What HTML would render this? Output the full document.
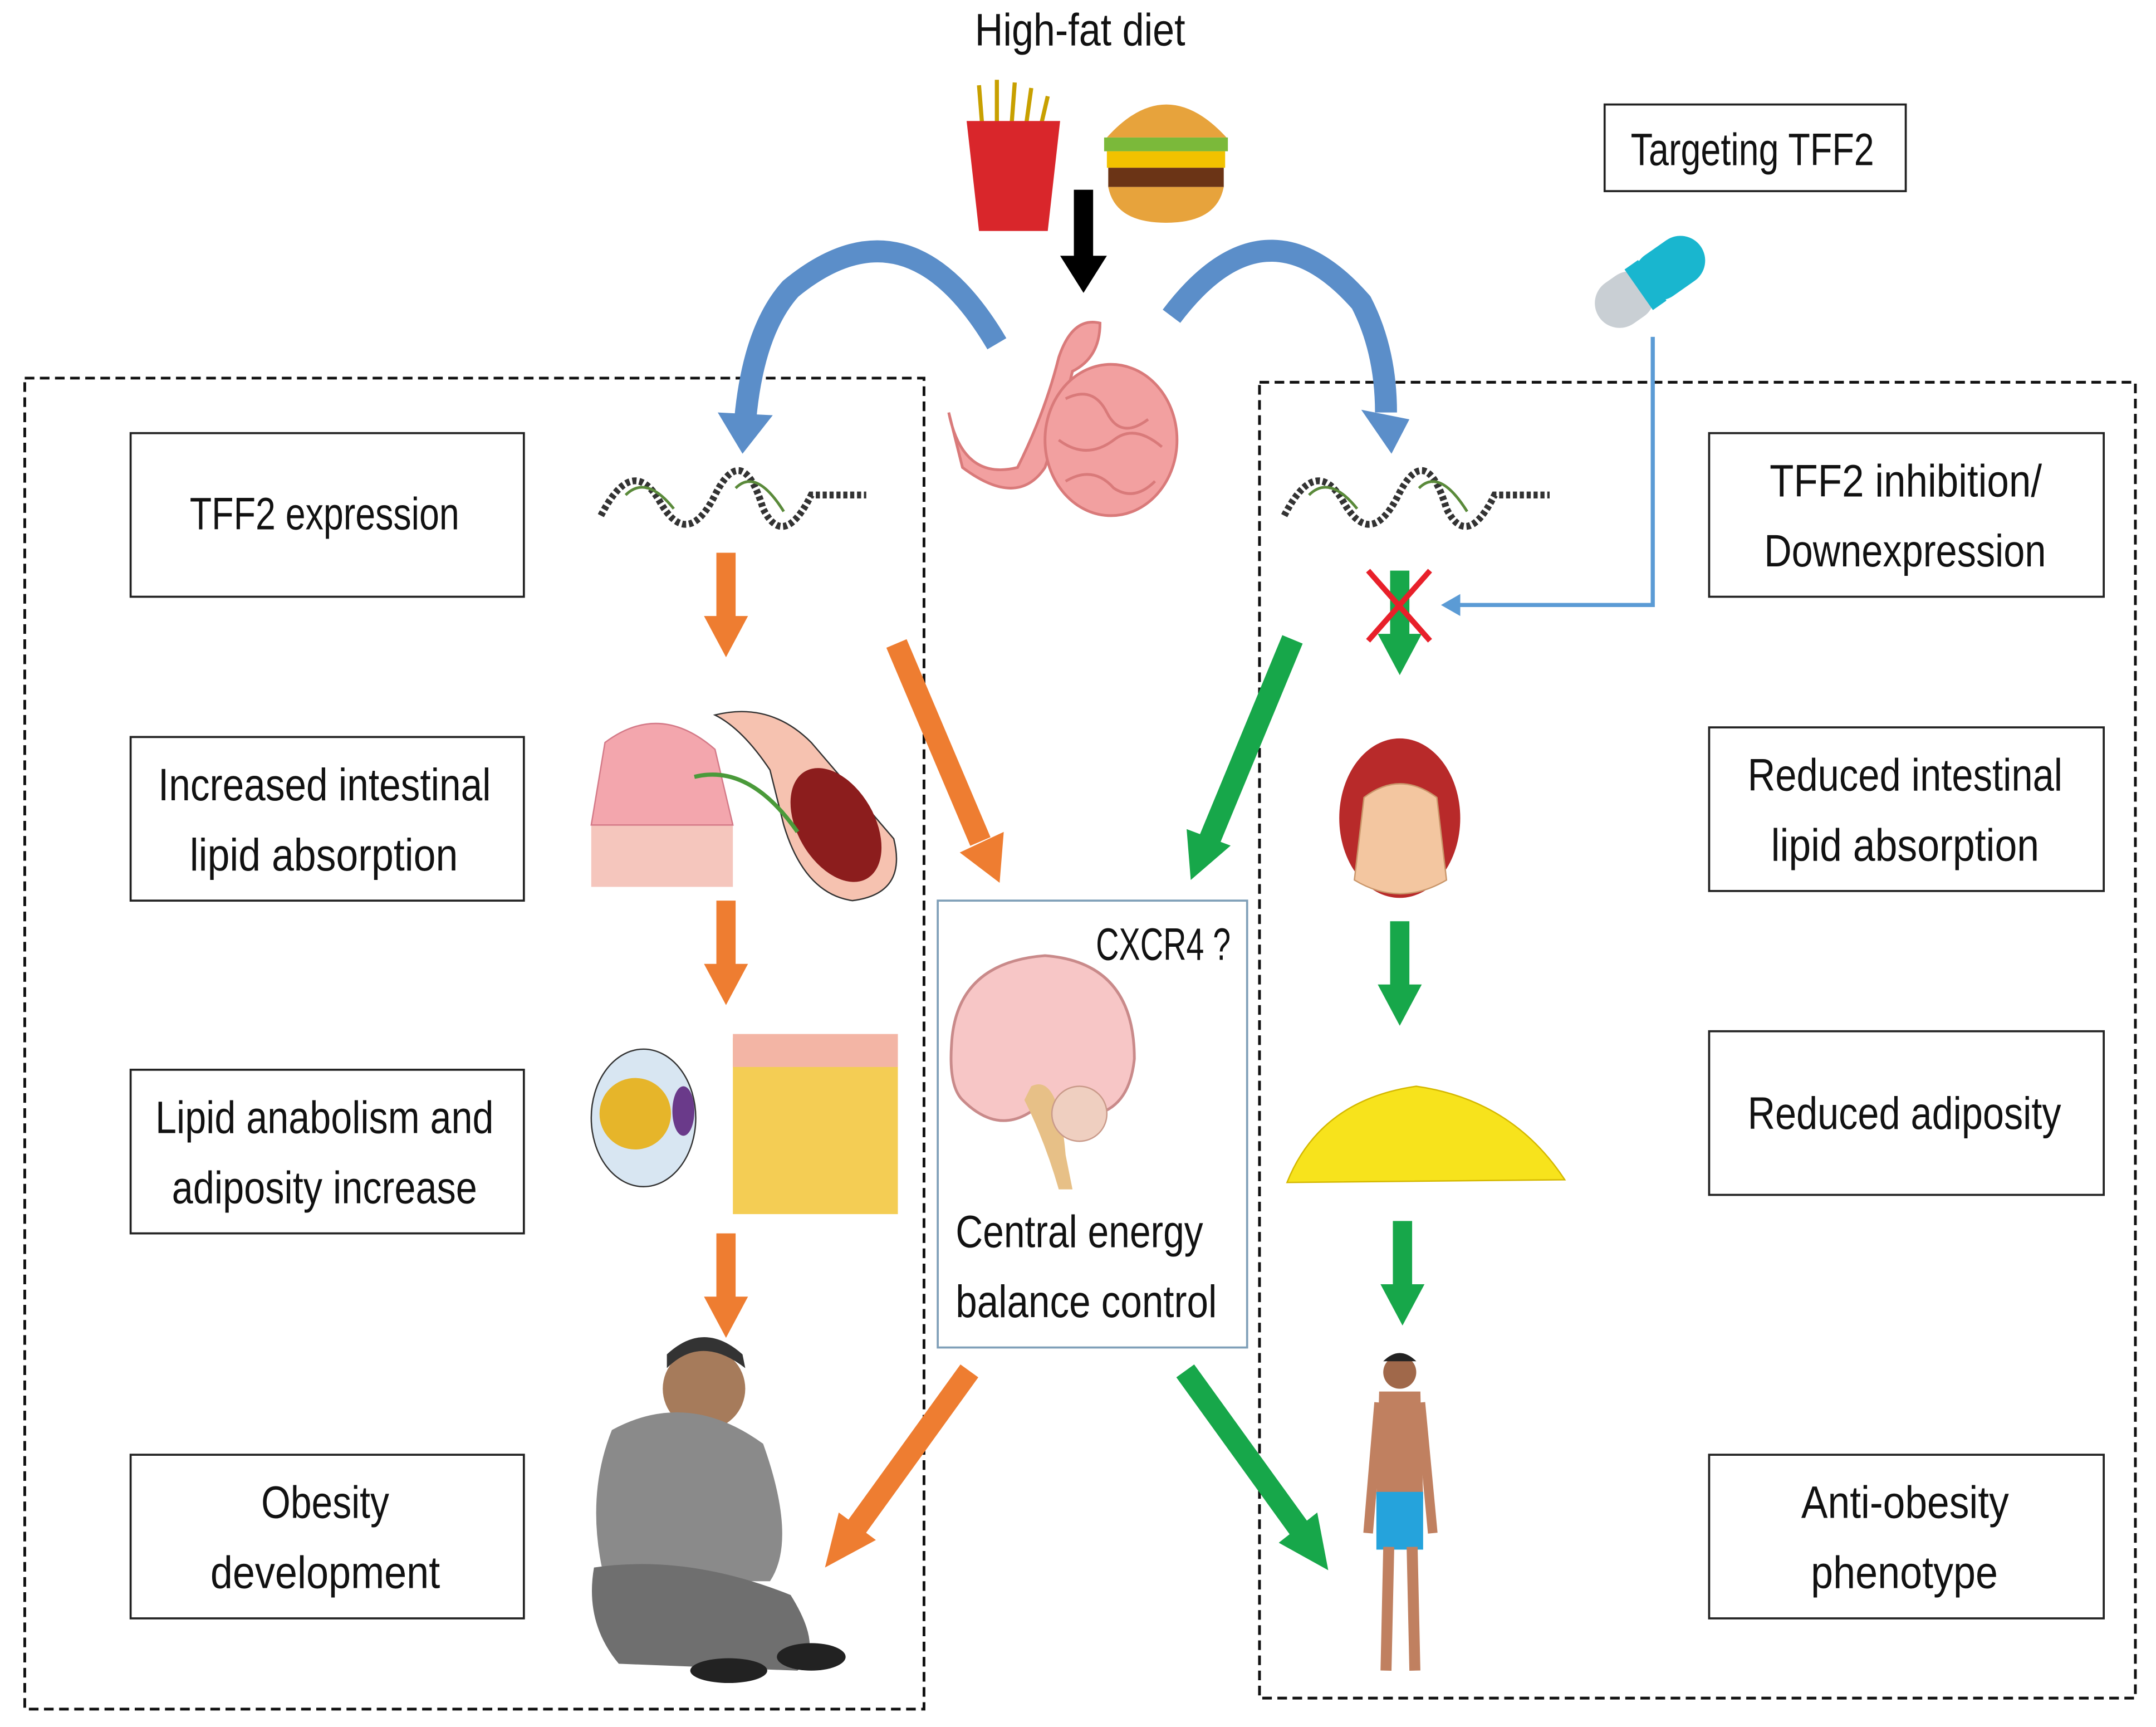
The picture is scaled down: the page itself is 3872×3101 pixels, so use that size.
<!DOCTYPE html>
<html><head><meta charset="utf-8"><style>
html,body{margin:0;padding:0;background:#fff;}
svg{display:block;}
text{font-family:"Liberation Sans",sans-serif;fill:#111;}
</style></head><body>
<svg width="3872" height="3101" viewBox="0 0 1568 1256" preserveAspectRatio="none" xmlns="http://www.w3.org/2000/svg">
<rect width="1568" height="1256" fill="#fff"/>
<rect x="18" y="275" width="654" height="968" fill="none" stroke="#111" stroke-width="2" stroke-dasharray="7,4"/>
<rect x="916" y="278" width="637" height="957" fill="none" stroke="#111" stroke-width="2" stroke-dasharray="7,4"/>
<g fill="#fff" stroke="#222" stroke-width="1.5">
<rect x="95" y="315" width="286" height="119"/><rect x="95" y="536" width="286" height="119"/>
<rect x="95" y="778" width="286" height="119"/><rect x="95" y="1058" width="286" height="119"/>
<rect x="1243" y="315" width="287" height="119"/><rect x="1243" y="529" width="287" height="119"/>
<rect x="1243" y="750" width="287" height="119"/><rect x="1243" y="1058" width="287" height="119"/>
<rect x="1167" y="76" width="219" height="63"/>
</g>
<rect x="682" y="655" width="225" height="325" fill="#fff" stroke="#7f9fb8" stroke-width="1.5"/>
<g font-size="33" lengthAdjust="spacingAndGlyphs">
<text x="138" y="385" textLength="196" lengthAdjust="spacingAndGlyphs">TFF2 expression</text>
<text x="115" y="582" textLength="242" lengthAdjust="spacingAndGlyphs">Increased intestinal</text>
<text x="138" y="633" textLength="195" lengthAdjust="spacingAndGlyphs">lipid absorption</text>
<text x="113" y="824" textLength="246" lengthAdjust="spacingAndGlyphs">Lipid anabolism and</text>
<text x="125" y="875" textLength="222" lengthAdjust="spacingAndGlyphs">adiposity increase</text>
<text x="190" y="1104" textLength="93" lengthAdjust="spacingAndGlyphs">Obesity</text>
<text x="153" y="1155" textLength="167" lengthAdjust="spacingAndGlyphs">development</text>
<text x="1287" y="361" textLength="198" lengthAdjust="spacingAndGlyphs">TFF2 inhibition/</text>
<text x="1283" y="412" textLength="205" lengthAdjust="spacingAndGlyphs">Downexpression</text>
<text x="1271" y="575" textLength="229" lengthAdjust="spacingAndGlyphs">Reduced intestinal</text>
<text x="1288" y="626" textLength="195" lengthAdjust="spacingAndGlyphs">lipid absorption</text>
<text x="1271" y="821" textLength="228" lengthAdjust="spacingAndGlyphs">Reduced adiposity</text>
<text x="1310" y="1104" textLength="151" lengthAdjust="spacingAndGlyphs">Anti-obesity</text>
<text x="1317" y="1155" textLength="136" lengthAdjust="spacingAndGlyphs">phenotype</text>
<text x="1186" y="120" textLength="177" lengthAdjust="spacingAndGlyphs">Targeting TFF2</text>
<text x="709" y="33" textLength="153" lengthAdjust="spacingAndGlyphs">High-fat diet</text>
<text x="797" y="698" textLength="98" lengthAdjust="spacingAndGlyphs">CXCR4 ?</text>
<text x="695" y="907" textLength="180" lengthAdjust="spacingAndGlyphs">Central energy</text>
<text x="695" y="958" textLength="190" lengthAdjust="spacingAndGlyphs">balance control</text>
</g>
<g stroke="#c8a000" stroke-width="3"><line x1="715" y1="100" x2="712" y2="62"/><line x1="725" y1="100" x2="725" y2="58"/><line x1="735" y1="100" x2="738" y2="60"/><line x1="745" y1="100" x2="750" y2="64"/><line x1="755" y1="100" x2="762" y2="70"/></g>
<path d="M703,88 L771,88 L762,168 L712,168 z" fill="#d9262b"/>
<path d="M805,100 Q848,52 892,100 z" fill="#e7a33c"/>
<rect x="803" y="100" width="90" height="10" fill="#7bb93a"/><rect x="805" y="110" width="86" height="12" fill="#f2c200"/>
<rect x="806" y="122" width="84" height="14" fill="#6b3416"/><path d="M806,136 L890,136 Q885,162 848,162 Q811,162 806,136z" fill="#e7a33c"/>
<rect x="781" y="138" width="14" height="50" fill="#000"/><path d="M771,186 L805,186 L788,213z" fill="#000"/>
<g fill="#f2a0a0" stroke="#d97a7a" stroke-width="2">
<path d="M690,300 Q700,350 740,340 Q760,300 770,260 Q780,230 800,235 Q800,260 780,270 Q770,310 760,340 Q740,370 700,340 z"/>
<ellipse cx="808" cy="320" rx="48" ry="55"/>
</g>
<g fill="none" stroke="#d97a7a" stroke-width="2"><path d="M775,290 q20,-10 30,10 q10,20 30,5"/><path d="M770,320 q20,15 40,0 q15,-12 35,5"/><path d="M775,350 q20,-12 35,5 q15,10 30,-5"/></g>
<path d="M725,250 Q660,140 575,210 Q548,240 542,305" fill="none" stroke="#5b8ec9" stroke-width="16"/>
<path d="M522,300 L562,302 L540,330z" fill="#5b8ec9"/>
<path d="M852,230 Q920,140 990,220 Q1008,255 1008,300" fill="none" stroke="#5b8ec9" stroke-width="16"/>
<path d="M990,298 L1025,305 L1012,330z" fill="#5b8ec9"/>
<g transform="rotate(-35 1200 205)"><rect x="1155" y="187" width="45" height="36" rx="18" fill="#c9cfd4"/><rect x="1190" y="187" width="55" height="36" rx="18" fill="#19b6cf"/><rect x="1190" y="187" width="12" height="36" fill="#19b6cf"/></g>
<polyline points="1202,245 1202,440 1060,440" fill="none" stroke="#5b9bd5" stroke-width="3"/>
<path d="M1062,432 L1048,440 L1062,448z" fill="#5b9bd5"/>
<g fill="none" stroke="#333" stroke-width="5" stroke-dasharray="3,2">
<path d="M437,375 Q460,330 480,365 Q500,400 520,360 Q540,320 555,370 Q570,400 590,360 L630,360"/>
<path d="M934,375 Q957,330 977,365 Q997,400 1017,360 Q1037,320 1052,370 Q1067,400 1087,360 L1127,360"/>
</g>
<g fill="none" stroke="#5a8a3a" stroke-width="2"><path d="M455,360 Q470,345 490,370"/><path d="M535,355 Q550,340 570,372"/><path d="M952,360 Q967,345 987,370"/><path d="M1032,355 Q1047,340 1067,372"/></g>
<g fill="#ee7d31">
<rect x="521" y="402" width="14" height="48"/><path d="M512,448 L544,448 L528,478z"/>
<rect x="521" y="655" width="14" height="48"/><path d="M512,701 L544,701 L528,731z"/>
<rect x="521" y="897" width="14" height="48"/><path d="M512,943 L544,943 L528,973z"/>
</g>
<line x1="652" y1="468" x2="713" y2="612" stroke="#ee7d31" stroke-width="16"/><path d="M698,620 L730,605 L727,642z" fill="#ee7d31"/>
<line x1="705" y1="997" x2="622" y2="1112" stroke="#ee7d31" stroke-width="16"/><path d="M610,1100 L637,1120 L600,1140z" fill="#ee7d31"/>
<g fill="#17a74a">
<rect x="1011" y="415" width="14" height="48"/><path d="M1002,461 L1034,461 L1018,491z"/>
<rect x="1011" y="670" width="14" height="48"/><path d="M1002,716 L1034,716 L1018,746z"/>
<rect x="1013" y="888" width="14" height="48"/><path d="M1004,934 L1036,934 L1020,964z"/>
</g>
<line x1="940" y1="465" x2="880" y2="610" stroke="#17a74a" stroke-width="16"/><path d="M863,603 L895,615 L866,640z" fill="#17a74a"/>
<line x1="862" y1="997" x2="945" y2="1112" stroke="#17a74a" stroke-width="16"/><path d="M930,1122 L958,1100 L966,1142z" fill="#17a74a"/>
<g stroke="#e8202a" stroke-width="4"><line x1="995" y1="415" x2="1040" y2="466"/><line x1="1040" y1="415" x2="995" y2="466"/></g>
<rect x="430" y="600" width="103" height="45" fill="#f5c6bd"/>
<path d="M430,600 L440,540 Q480,510 520,545 L533,600z" fill="#f3a6ad" stroke="#d47a88"/>
<path d="M520,520 Q560,510 590,540 L650,610 Q660,650 620,655 Q585,650 570,600 L560,560 Q540,530 520,520z" fill="#f6c2b0" stroke="#333"/>
<ellipse cx="608" cy="600" rx="28" ry="45" transform="rotate(-30 608 600)" fill="#8c1d1d"/>
<path d="M505,565 Q545,555 580,605" fill="none" stroke="#4a9a3a" stroke-width="3"/>
<ellipse cx="468" cy="813" rx="38" ry="50" fill="#d8e6f2" stroke="#333"/>
<circle cx="462" cy="810" r="26" fill="#e6b52a"/><ellipse cx="497" cy="808" rx="8" ry="18" fill="#6a3a8a"/>
<rect x="533" y="755" width="120" height="128" fill="#f4cd54"/><rect x="533" y="752" width="120" height="24" fill="#f3b5a5"/>
<circle cx="512" cy="1010" r="30" fill="#a67b5b"/><path d="M485,995 Q510,970 542,995 L540,985 Q512,960 485,985z" fill="#333"/>
<path d="M445,1040 Q500,1010 555,1050 Q580,1120 560,1150 L440,1150 Q425,1090 445,1040z" fill="#8a8a8a"/>
<path d="M432,1140 Q500,1130 575,1160 Q600,1200 580,1215 L450,1210 Q425,1180 432,1140z" fill="#6f6f6f"/>
<ellipse cx="590" cy="1205" rx="25" ry="10" fill="#222"/><ellipse cx="530" cy="1215" rx="28" ry="9" fill="#222"/>
<ellipse cx="1018" cy="595" rx="44" ry="58" fill="#b82a2a"/>
<path d="M985,640 L992,580 Q1018,560 1045,580 L1052,640 Q1018,660 985,640z" fill="#f3c6a0" stroke="#c9966a"/>
<path d="M936,860 Q960,800 1030,790 Q1100,800 1138,858 Z" fill="#f7e31c" stroke="#d4b800"/>
<path d="M692,760 Q695,700 760,695 Q825,700 825,770 Q820,820 770,810 L760,800 Q730,830 700,800 Q690,790 692,760z" fill="#f7c6c6" stroke="#c98a8a" stroke-width="2"/>
<path d="M750,790 Q770,780 775,840 L780,865 L770,865 Q760,830 745,800z" fill="#e7c087"/>
<circle cx="785" cy="810" r="20" fill="#efcfc0" stroke="#c99a8a"/>
<circle cx="1018" cy="998" r="12" fill="#a0684a"/><path d="M1006,990 Q1018,978 1030,990z" fill="#222"/>
<path d="M1003,1012 L1033,1012 L1035,1090 L1001,1090z" fill="#c08060"/>
<line x1="1003" y1="1020" x2="995" y2="1115" stroke="#c08060" stroke-width="7"/><line x1="1033" y1="1020" x2="1042" y2="1115" stroke="#c08060" stroke-width="7"/>
<rect x="1001" y="1085" width="34" height="42" fill="#25a3dc"/>
<line x1="1010" y1="1125" x2="1008" y2="1215" stroke="#c08060" stroke-width="8"/><line x1="1027" y1="1125" x2="1029" y2="1215" stroke="#c08060" stroke-width="8"/>
</svg>
</body></html>
